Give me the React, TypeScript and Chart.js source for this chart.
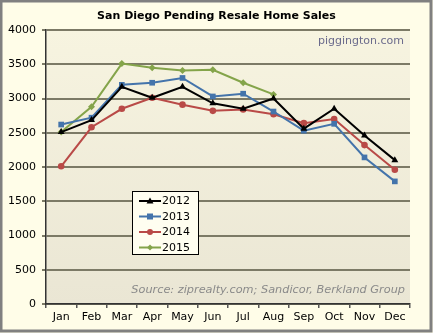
import React, { useEffect, useRef } from "react";
import { Chart, registerables } from "chart.js";

Chart.register(...registerables);

const months = ["Jan", "Feb", "Mar", "Apr", "May", "Jun", "Jul", "Aug", "Sep", "Oct", "Nov", "Dec"];
const sales2012 = [2510, 2685, 3170, 3010, 3170, 2930, 2850, 3000, 2560, 2850, 2460, 2100];
const sales2013 = [2620, 2720, 3200, 3230, 3300, 3030, 3070, 2810, 2530, 2630, 2140, 1790];
const sales2014 = [2010, 2580, 2850, 3010, 2910, 2820, 2840, 2770, 2640, 2700, 2320, 1960];
const sales2015 = [2510, 2880, 3510, 3450, 3410, 3420, 3230, 3060, null, null, null, null];
const yTicks = [0, 500, 1000, 1500, 2000, 2500, 3000, 3500, 4000];

const titleText = "San Diego Pending Resale Home Sales";
const watermark = "piggington.com";
const sourceText = "Source: ziprealty.com; Sandicor, Berkland Group";

const FONT = "'DejaVu Sans', Verdana, sans-serif";

const seriesStyle = [
  { label: "2012", data: sales2012, color: "#000000", point: "triangle", r: 4 },
  { label: "2013", data: sales2013, color: "#4474AB", point: "rect", r: 4 },
  { label: "2014", data: sales2014, color: "#B94A47", point: "circle", r: 3.3 },
  { label: "2015", data: sales2015, color: "#84A44A", point: "rectRot", r: 3.5 },
];

export default function App() {
  const ref = useRef<HTMLCanvasElement | null>(null);
  useEffect(() => {
    document.body.style.margin = "0";
    const canvas = ref.current!;
    const decor = {
      id: "decor",
      beforeDraw(chart: any) {
        const { ctx, chartArea: a } = chart;
        ctx.save();
        ctx.fillStyle = "#FFFDE8";
        ctx.fillRect(0, 0, chart.width, chart.height);
        ctx.strokeStyle = "#808080";
        ctx.lineWidth = 3;
        ctx.strokeRect(1, 1, chart.width - 3, chart.height - 3);
        const g = ctx.createLinearGradient(0, a.top, 0, a.bottom);
        g.addColorStop(0, "#F7F4E0");
        g.addColorStop(1, "#EAE6D4");
        ctx.fillStyle = g;
        ctx.fillRect(a.left, a.top, a.right - a.left, a.bottom - a.top);
        ctx.restore();
      },
      afterDraw(chart: any) {
        const { ctx, chartArea: a } = chart;
        ctx.save();
        ctx.fillStyle = "#000";
        ctx.font = `bold 11px ${FONT}`;
        ctx.textAlign = "center";
        ctx.textBaseline = "middle";
        ctx.fillText(titleText, chart.width / 2, 16);
        ctx.font = `11px ${FONT}`;
        ctx.fillStyle = "#6B6B8C";
        ctx.textAlign = "right";
        ctx.fillText(watermark, a.right - 6, 41);
        ctx.font = `italic 11.3px ${FONT}`;
        ctx.fillStyle = "#8A8A8A";
        ctx.fillText(sourceText, a.right - 5, 290);
        // legend
        const lx = 132, ly = 191, lw = 66, lh = 63;
        ctx.fillStyle = "#FFFEF0";
        ctx.fillRect(lx, ly, lw, lh);
        ctx.strokeStyle = "#000";
        ctx.lineWidth = 1;
        ctx.strokeRect(lx + 0.5, ly + 0.5, lw, lh);
        seriesStyle.forEach((s, i) => {
          const y = ly + 10 + i * 15.5;
          ctx.strokeStyle = s.color;
          ctx.lineWidth = 2;
          ctx.beginPath();
          ctx.moveTo(lx + 7, y);
          ctx.lineTo(lx + 29, y);
          ctx.stroke();
          ctx.fillStyle = s.color;
          const cx = lx + 18;
          ctx.beginPath();
          if (s.point === "triangle") {
            ctx.moveTo(cx, y - 3.5); ctx.lineTo(cx + 3.5, y + 2.5); ctx.lineTo(cx - 3.5, y + 2.5);
          } else if (s.point === "rect") {
            ctx.rect(cx - 3, y - 3, 6, 6);
          } else if (s.point === "circle") {
            ctx.arc(cx, y, 3, 0, Math.PI * 2);
          } else {
            ctx.moveTo(cx, y - 3); ctx.lineTo(cx + 3, y); ctx.lineTo(cx, y + 3); ctx.lineTo(cx - 3, y);
          }
          ctx.closePath();
          ctx.fill();
          ctx.fillStyle = "#000";
          ctx.font = `11px ${FONT}`;
          ctx.textAlign = "left";
          ctx.textBaseline = "middle";
          ctx.fillText(s.label, lx + 30, y + 0.5);
        });
        ctx.restore();
      },
    };
    const chart = new Chart(canvas, {
      type: "line",
      data: {
        labels: months,
        datasets: seriesStyle.map((s) => ({
          label: s.label,
          data: s.data,
          borderColor: s.color,
          backgroundColor: s.color,
          borderWidth: 2,
          pointStyle: s.point as any,
          pointRadius: s.r,
          pointBorderWidth: 0,
          tension: 0,
          spanGaps: false,
        })),
      },
      options: {
        responsive: false,
        animation: false,
        devicePixelRatio: 1,
        layout: { padding: { top: 30, right: 23, left: 0, bottom: 0 } },
        plugins: { legend: { display: false }, title: { display: false }, tooltip: { enabled: false } },
        scales: {
          x: {
            offset: true,
            grid: { offset: true, drawOnChartArea: false, drawTicks: true, tickLength: 4, color: "#555", lineWidth: 1.5 },
            border: { color: "#333", width: 1.5 },
            ticks: { color: "#000", font: { family: FONT, size: 11 }, padding: 3, maxRotation: 0, autoSkip: false },
            afterFit: (s: any) => { s.height = 29; },
          },
          y: {
            min: 0,
            max: 4000,
            afterBuildTicks: (s: any) => { s.ticks = yTicks.map((v) => ({ value: v })); },
            grid: { color: "#7C7A66", lineWidth: 2, drawTicks: true, tickLength: 4 },
            border: { color: "#333", width: 1.5 },
            ticks: { color: "#000", font: { family: FONT, size: 11 }, padding: 6, callback: (v: any) => String(v) },
            afterFit: (s: any) => { s.width = 46; },
          },
        },
      },
      plugins: [decor],
    });
    return () => chart.destroy();
  }, []);
  return <canvas ref={ref} width={433} height={333} style={{ display: "block" }} />;
}
